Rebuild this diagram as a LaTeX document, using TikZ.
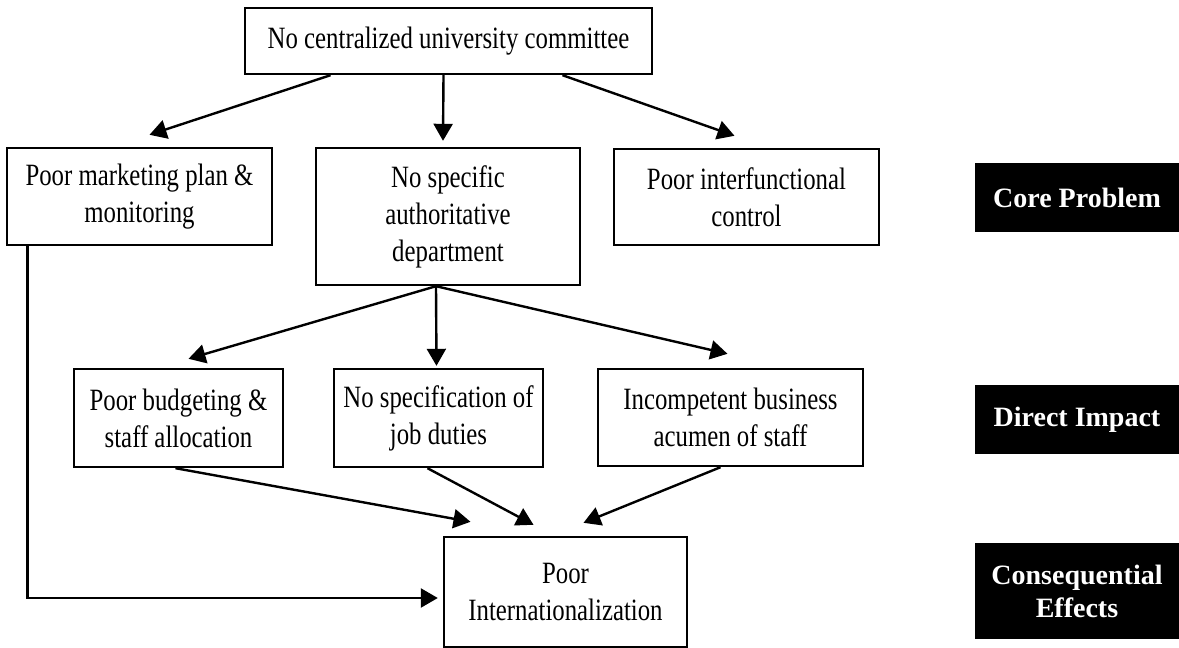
\documentclass[tikz,border=0pt]{standalone}
\usepackage{fontspec}
\setmainfont{Liberation Serif}
\newfontfamily\boxfont{Liberation Serif}[FakeStretch=0.8]
\usetikzlibrary{arrows.meta}

\begin{document}
\begin{tikzpicture}[x=1pt,y=-1pt,
    box/.style={draw,line width=2.4pt,align=center,inner sep=0pt,
        font=\boxfont\fontsize{31}{37}\selectfont},
    tag/.style={fill=black,text=white,align=center,inner sep=0pt,
        minimum width=204pt,font=\bfseries\fontsize{28}{33}\selectfont},
    arr/.style={line width=2.4pt,-{Triangle[length=17pt,width=19pt]}}]
    \useasboundingbox (0,0) rectangle (1179,648);

    % Top level
    \node[box,minimum width=407pt,minimum height=66pt] (top) at (448.5,41) {No centralized university committee};

    % Core problems
    \node[box,minimum width=265pt,minimum height=97pt] (mkt) at (139.5,196.5) {Poor marketing plan \&\\monitoring};
    \node[box,minimum width=264pt,minimum height=137pt] (dept) at (448,216.5) {No specific\\authoritative\\department};
    \node[box,minimum width=265pt,minimum height=96pt] (ctrl) at (746.5,197) {Poor interfunctional\\control};

    % Direct impacts
    \node[box,minimum width=209pt,minimum height=98pt] (budg) at (178.5,418) {Poor budgeting \&\\staff allocation};
    \node[box,minimum width=209pt,minimum height=98pt] (duty) at (438.5,418) {No specification of\\job duties};
    \node[box,minimum width=265pt,minimum height=97pt] (acum) at (730.5,417.5) {Incompetent business\\acumen of staff};

    % Effect
    \node[box,minimum width=243pt,minimum height=110pt] (intl) at (565.5,592) {Poor\\Internationalization};

    % Level tags
    \node[tag,minimum height=69pt] (core) at (1077,197.5) {Core Problem};
    \node[tag,minimum height=69pt] (impact) at (1077,419.5) {Direct Impact};
    \node[tag,minimum height=96pt] (effects) at (1077,591) {Consequential\\Effects};

    % Arrows from the top
    \draw[arr] ([xshift=-118pt]top.south) -- ([xshift=10pt,yshift=12pt]mkt.north);
    \draw[arr] ([xshift=-5pt]top.south) -- ([xshift=-5pt,yshift=6pt]dept.north);
    \draw[arr] ([xshift=114pt]top.south) -- ([xshift=-12pt,yshift=12pt]ctrl.north);

    % Arrows from the department
    \draw[arr] ([xshift=-12pt]dept.south) -- ([xshift=10pt,yshift=9pt]budg.north);
    \draw[arr] ([xshift=-12pt]dept.south) -- ([xshift=-2pt,yshift=2pt]duty.north);
    \draw[arr] ([xshift=-12pt]dept.south) -- ([xshift=-3pt,yshift=14pt]acum.north);

    % Arrows into the effect
    \draw[arr] ([xshift=-3pt]budg.south) -- ([xshift=-95pt,yshift=14pt]intl.north);
    \draw[arr] ([xshift=-11pt]duty.south) -- ([xshift=-32pt,yshift=11pt]intl.north);
    \draw[arr] ([xshift=-10pt]acum.south) -- ([xshift=18pt,yshift=13pt]intl.north);
    \draw[arr] ([xshift=-112pt]mkt.south) |- ([xshift=-5pt,yshift=-6pt]intl.west);
\end{tikzpicture}
\end{document}
